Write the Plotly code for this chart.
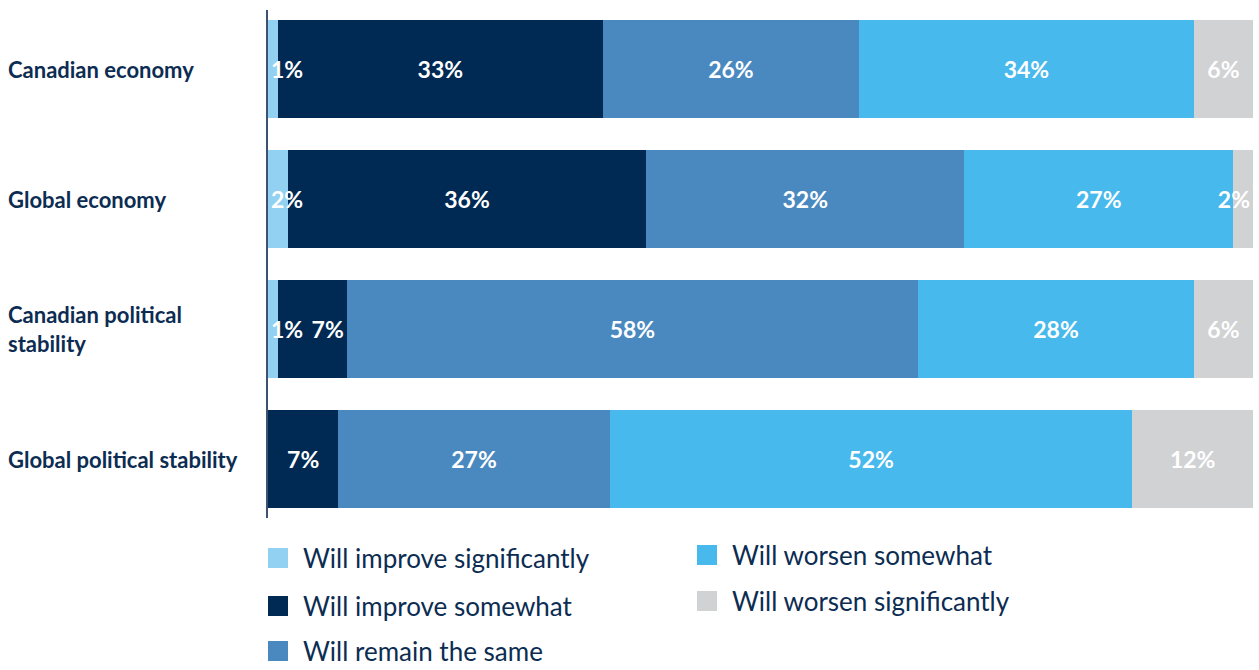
import plotly.graph_objects as go

# Survey topics (top to bottom) and answer shares in percent
categories = [
    "Canadian economy",
    "Global economy",
    "Canadian political<br>stability",
    "Global political stability",
]
improve_significantly = [1, 2, 1, 0]
improve_somewhat = [33, 36, 7, 7]
remain_same = [26, 32, 58, 27]
worsen_somewhat = [34, 27, 28, 52]
worsen_significantly = [6, 2, 6, 12]

series_names = [
    "Will improve significantly",
    "Will improve somewhat",
    "Will remain the same",
    "Will worsen somewhat",
    "Will worsen significantly",
]
series_values = [
    improve_significantly,
    improve_somewhat,
    remain_same,
    worsen_somewhat,
    worsen_significantly,
]
colors = ["#93d1f2", "#002a54", "#4a89c0", "#47b9ec", "#d1d2d4"]

# Labels that sit against a segment edge instead of centred:
# series index -> (anchor, category indices)
edge_labels = {
    0: ("start", [0, 1, 2, 3]),
    1: ("end", [2]),
    4: ("end", [1]),
}

NAVY = "#0c2c52"
FONT = "Lato"

W, H = 1259, 670
L, R, T, B = 268, 6, 10, 152
plot_w = W - L - R
plot_h = H - T - B

Y_RANGE = [3.4538, -0.4538]

fig = go.Figure()

# Coloured segments
for name, vals, col in zip(series_names, series_values, colors):
    fig.add_trace(
        go.Bar(
            y=categories,
            x=vals,
            name=name,
            orientation="h",
            marker=dict(color=col, line=dict(width=0)),
            showlegend=False,
            hoverinfo="skip",
        )
    )

# Value labels on transparent copies of the stacks, drawn above all segments
label_font = dict(color="white", size=23, family=FONT, weight="bold")
for layer, axes in (("centre", ("x2", "y2")), ("edge", ("x3", "y3"))):
    for i, (name, vals) in enumerate(zip(series_names, series_values)):
        anchor, edge_idx = edge_labels.get(i, ("middle", []))
        labels = []
        for j, v in enumerate(vals):
            on_edge = j in edge_idx
            show = v > 0 and (on_edge if layer == "edge" else not on_edge)
            labels.append(f"{v}%" if show else "")
        fig.add_trace(
            go.Bar(
                y=categories,
                x=vals,
                name=name,
                orientation="h",
                xaxis=axes[0],
                yaxis=axes[1],
                marker=dict(color="rgba(0,0,0,0)", line=dict(width=0)),
                text=labels,
                textposition="inside",
                insidetextanchor=anchor if layer == "edge" else "middle",
                textangle=0,
                constraintext="none",
                insidetextfont=label_font,
                cliponaxis=False,
                showlegend=False,
                hoverinfo="skip",
            )
        )

# Category labels, left-aligned at the page edge
annotations = []
for cat in categories:
    annotations.append(
        dict(
            x=-(L - 6) / plot_w,
            xref="paper",
            y=cat,
            yref="y",
            text=cat,
            showarrow=False,
            xanchor="left",
            yanchor="middle",
            align="left",
            font=dict(size=22, color=NAVY, family=FONT, weight="bold"),
        )
    )


def px_to_paper_x(px):
    return (px - L) / plot_w


def px_to_paper_y(py):
    return (H - B - py) / plot_h


# Legend: two columns of colour swatches with labels
legend_slots = [(268, 558), (268, 606), (268, 651), (697, 555), (697, 601)]
shapes = []
for (sx, sy), name, col in zip(legend_slots, series_names, colors):
    shapes.append(
        dict(
            type="rect",
            xref="paper",
            yref="paper",
            x0=px_to_paper_x(sx),
            x1=px_to_paper_x(sx + 20),
            y0=px_to_paper_y(sy + 10),
            y1=px_to_paper_y(sy - 10),
            fillcolor=col,
            line=dict(width=0),
        )
    )
    annotations.append(
        dict(
            x=px_to_paper_x(sx + 33),
            xref="paper",
            y=px_to_paper_y(sy),
            yref="paper",
            text=name,
            showarrow=False,
            xanchor="left",
            yanchor="middle",
            font=dict(size=26, color=NAVY, family=FONT),
        )
    )

hidden_x = dict(range=[0, 100], visible=False, fixedrange=True)
hidden_y = dict(
    categoryorder="array",
    categoryarray=categories,
    range=Y_RANGE,
    visible=False,
    fixedrange=True,
)

fig.update_layout(
    width=W,
    height=H,
    margin=dict(l=L, r=R, t=T, b=B, pad=0),
    barmode="stack",
    barnorm="percent",
    bargap=0.246,
    plot_bgcolor="white",
    paper_bgcolor="white",
    font=dict(family=FONT, color=NAVY),
    xaxis=hidden_x,
    yaxis=dict(
        categoryorder="array",
        categoryarray=categories,
        range=Y_RANGE,
        showticklabels=False,
        showgrid=False,
        zeroline=False,
        showline=True,
        linecolor="#3d5270",
        linewidth=1.5,
        ticks="",
        fixedrange=True,
    ),
    xaxis2=dict(hidden_x, overlaying="x", anchor="y2"),
    yaxis2=dict(hidden_y, overlaying="y", anchor="x2"),
    xaxis3=dict(hidden_x, overlaying="x", anchor="y3"),
    yaxis3=dict(hidden_y, overlaying="y", anchor="x3"),
    annotations=annotations,
    shapes=shapes,
)

fig.write_html("out.html", config={"displayModeBar": False})
